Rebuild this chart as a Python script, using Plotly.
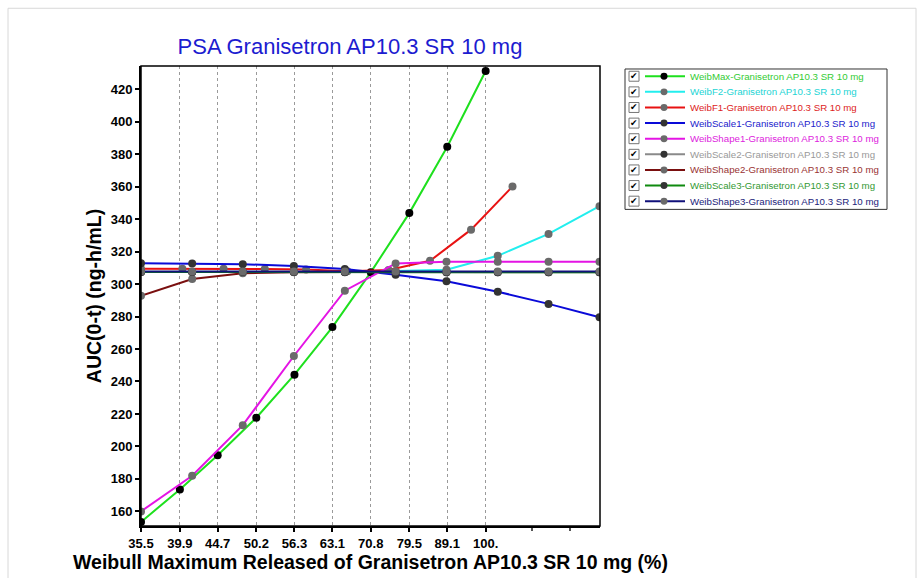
import math
import plotly.graph_objects as go

# ---------------- data ----------------
x_max = [35.5, 39.9, 44.7, 50.2, 56.3, 63.1, 70.8, 79.5, 89.1, 100.0]
auc_max = [153.5, 173.5, 194.6, 217.7, 244.2, 273.5, 307.2, 343.7, 384.6, 431.2]

x_param = [35.5, 41.4, 48.2, 56.2, 65.5, 76.3, 88.9, 103.7, 120.8, 140.8]
x_f1 = [35.5, 40.2, 45.5, 51.5, 58.3, 66.0, 74.7, 84.6, 95.7, 108.4]

auc_f2 = [307.5, 307.5, 307.5, 307.5, 307.4, 308.0, 308.8, 317.4, 330.9, 348.0]
auc_f1 = [309.5, 309.5, 309.5, 309.3, 308.9, 307.9, 308.6, 314.3, 333.5, 360.1]
auc_scale1 = [312.8, 312.6, 312.2, 311.2, 309.3, 305.7, 301.7, 295.3, 287.8, 279.6]
auc_shape1 = [160.0, 181.9, 213.1, 255.7, 295.9, 312.7, 313.8, 313.8, 313.8, 313.8]
auc_scale2 = [307.4, 307.4, 307.4, 307.4, 307.4, 307.3, 307.3, 307.3, 307.3, 307.3]
auc_shape2 = [292.8, 303.1, 306.6, 307.3, 307.4, 307.4, 307.4, 307.4, 307.4, 307.4]
auc_scale3 = [307.4, 307.4, 307.4, 307.4, 307.3, 307.3, 307.3, 307.3, 307.3, 307.3]
auc_shape3 = [307.7, 307.7, 307.7, 307.7, 307.7, 307.7, 307.7, 307.7, 307.7, 307.7]

names = [
    "WeibMax-Granisetron AP10.3 SR 10 mg",
    "WeibF2-Granisetron AP10.3 SR 10 mg",
    "WeibF1-Granisetron AP10.3 SR 10 mg",
    "WeibScale1-Granisetron AP10.3 SR 10 mg",
    "WeibShape1-Granisetron AP10.3 SR 10 mg",
    "WeibScale2-Granisetron AP10.3 SR 10 mg",
    "WeibShape2-Granisetron AP10.3 SR 10 mg",
    "WeibScale3-Granisetron AP10.3 SR 10 mg",
    "WeibShape3-Granisetron AP10.3 SR 10 mg",
]
xs_all = [x_max, x_param, x_f1, x_param, x_param, x_param, x_param, x_param, x_param]
ys_all = [auc_max, auc_f2, auc_f1, auc_scale1, auc_shape1, auc_scale2, auc_shape2, auc_scale3, auc_shape3]

line_colors = ["#1ee01e", "#22eeee", "#e81212", "#0a0ad8", "#e414e4", "#8a8a8a", "#7a0f0f", "#0f8a0f", "#10107a"]
marker_colors = ["#000000", "#6a6a6a", "#6a6a6a", "#333333", "#6a6a6a", "#333333", "#6a6a6a", "#333333", "#6a6a6a"]
text_colors = ["#33cc33", "#22d4d4", "#dd2222", "#2222cc", "#dd22dd", "#999999", "#993333", "#339933", "#22227a"]

x_tickvals = [35.5, 39.9, 44.7, 50.2, 56.3, 63.1, 70.8, 79.5, 89.1, 100.0]
x_ticktext = ["35.5", "39.9", "44.7", "50.2", "56.3", "63.1", "70.8", "79.5", "89.1", "100."]
x_minor_ticks = [115.0, 129.0]
y_tickvals = [160, 180, 200, 220, 240, 260, 280, 300, 320, 340, 360, 380, 400, 420]

# ---------------- layout geometry ----------------
W, H = 923, 578
L, R, T, B = 141, 323, 66, 50
PW = W - L - R
PH = H - T - B


def px(x):
    return (x - L) / PW


def py(y):
    return 1 - (y - T) / PH


FONT = "Liberation Sans, Arial, sans-serif"

fig = go.Figure()
for name, xs, ys, lc, mc in zip(names, xs_all, ys_all, line_colors, marker_colors):
    fig.add_trace(go.Scatter(
        x=xs, y=ys, name=name, mode="lines+markers",
        line=dict(color=lc, width=2),
        marker=dict(color=mc, size=8),
        showlegend=False,
    ))

shapes = []
annotations = []

# outer frame
shapes.append(dict(type="rect", xref="paper", yref="paper",
                   x0=px(8), x1=px(916), y0=py(590), y1=py(8),
                   line=dict(color="#d8d8d8", width=1), layer="below"))
# plot box (top/right)
shapes.append(dict(type="rect", xref="paper", yref="paper", x0=0, x1=1, y0=0, y1=1,
                   line=dict(color="black", width=1.5)))

# manual legend
LB_L, LB_R, LB_T, LB_B = 625, 887, 69, 210
shapes.append(dict(type="rect", xref="paper", yref="paper",
                   x0=px(LB_L), x1=px(LB_R), y0=py(LB_B), y1=py(LB_T),
                   line=dict(color="#333333", width=1), fillcolor="white"))
row0, step = 76.3, 15.68
for i, (name, lc, mc, tc) in enumerate(zip(names, line_colors, marker_colors, text_colors)):
    yc = row0 + i * step
    # checkbox
    shapes.append(dict(type="rect", xref="paper", yref="paper",
                       x0=px(629), x1=px(639), y0=py(yc + 5), y1=py(yc - 5),
                       line=dict(color="#777777", width=1), fillcolor="white"))
    annotations.append(dict(xref="paper", yref="paper", x=px(634), y=py(yc), text="✔",
                            showarrow=False, xanchor="center", yanchor="middle",
                            font=dict(family="DejaVu Sans", size=9, color="black")))
    # line + marker
    shapes.append(dict(type="line", xref="paper", yref="paper",
                       x0=px(645), x1=px(685), y0=py(yc), y1=py(yc),
                       line=dict(color=lc, width=2)))
    shapes.append(dict(type="circle", xref="paper", yref="paper",
                       x0=px(660.5), x1=px(667.5), y0=py(yc + 3.5), y1=py(yc - 3.5),
                       line=dict(color=mc, width=0), fillcolor=mc))
    annotations.append(dict(xref="paper", yref="paper", x=px(688), y=py(yc), text=name,
                            showarrow=False, xanchor="left", yanchor="middle",
                            font=dict(family=FONT, size=9.7, color=tc)))

fig.update_layout(
    width=W, height=H,
    margin=dict(l=L, r=R, t=T, b=B, pad=0),
    paper_bgcolor="white", plot_bgcolor="white",
    showlegend=False,
    font=dict(family=FONT, color="black"),
    title=dict(text="PSA Granisetron AP10.3 SR 10 mg", x=350 / W, xref="container", xanchor="center",
               y=1 - 46 / H, yref="container", yanchor="middle",
               font=dict(family=FONT, size=22, color="#1c1cd0")),
    xaxis=dict(
        type="log", range=[math.log10(35.5), math.log10(141.0)],
        tickmode="array", tickvals=x_tickvals, ticktext=x_ticktext,
        showgrid=True, gridcolor="#9a9a9a", gridwidth=1, griddash="3px,3px",
        ticks="outside", ticklen=4, tickwidth=1.5, tickcolor="black",
        showline=True, linecolor="black", linewidth=2, zeroline=False,
        tickfont=dict(family=FONT, size=13, color="black", weight="bold"),
        minor=dict(tickmode="array", tickvals=x_minor_ticks, ticks="outside", ticklen=3,
                   tickcolor="#555555", showgrid=False),
        title=dict(text="Weibull Maximum Released of Granisetron AP10.3 SR 10 mg (%)",
                   font=dict(family=FONT, size=19.5, color="black", weight="bold"), standoff=2),
    ),
    yaxis=dict(
        range=[151.0, 434.3],
        tickmode="array", tickvals=y_tickvals,
        showgrid=False, zeroline=False,
        ticks="outside", ticklen=4, tickwidth=1.5, tickcolor="black",
        showline=True, linecolor="black", linewidth=2,
        tickfont=dict(family=FONT, size=13, color="black", weight="bold"),
        title=dict(text="AUC(0-t) (ng-h/mL)",
                   font=dict(family=FONT, size=19.5, color="black", weight="bold"), standoff=4),
    ),
    shapes=shapes,
    annotations=annotations,
)

fig.write_html("out.html")
